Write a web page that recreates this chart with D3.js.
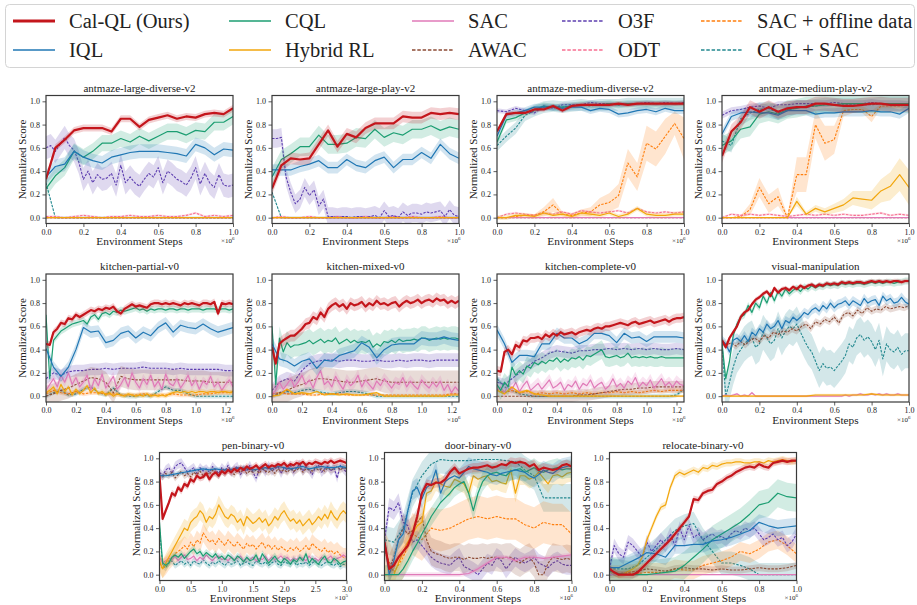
<!DOCTYPE html>
<html><head><meta charset="utf-8">
<script src="https://cdn.jsdelivr.net/npm/d3@7"></script>
<style>
body{margin:0;background:#fff}
svg{display:block}
</style>
</head><body><svg id="c" width="917" height="605" font-family="'Liberation Serif','Times New Roman','DejaVu Serif',serif"></svg>
<script>
const FONT = "'Liberation Serif','Times New Roman','DejaVu Serif',serif";
// ---------------- series ----------------
const seriesNames = ["Cal-QL (Ours)","IQL","CQL","Hybrid RL","SAC","AWAC","O3F","ODT","SAC + offline data","CQL + SAC"];
const seriesColors = ["#c4161c","#2077b4","#1c9e72","#f2a60c","#e07ab8","#8c4b35","#5e3fb0","#f76f91","#ff7f0e","#22888f"];
const seriesDashed = [false,false,false,false,false,true,true,true,true,true];
const seriesWidth = [2.2,1.2,1.2,1.2,1.2,1.1,1.1,1.1,1.1,1.1];
const drawOrder = [9,8,7,6,5,4,3,2,1,0];

// ---------------- panels ----------------
const panelTitles = ["antmaze-large-diverse-v2","antmaze-large-play-v2","antmaze-medium-diverse-v2","antmaze-medium-play-v2",
  "kitchen-partial-v0","kitchen-mixed-v0","kitchen-complete-v0","visual-manipulation",
  "pen-binary-v0","door-binary-v0","relocate-binary-v0"];
const panelXMax = [1,1,1,1,1.25,1.25,1.25,1,3,1,1];
const panelExp = ["6","6","6","6","6","6","6","6","5","6","6"];
const xTicksUnit = [0,0.2,0.4,0.6,0.8,1.0];
const xTicksKitchen = [0,0.2,0.4,0.6,0.8,1.0,1.2];
const xTicksPen = [0,0.5,1.0,1.5,2.0,2.5,3.0];
const yTicks = [0,0.2,0.4,0.6,0.8,1.0];

// order: Cal-QL, IQL, CQL, Hybrid RL, SAC, AWAC, O3F, ODT, SAC+offline, CQL+SAC
const antmazeLargeDiverse = [
 [0.33,0.60,0.67,0.75,0.77,0.77,0.77,0.74,0.85,0.85,0.78,0.84,0.86,0.88,0.85,0.87,0.86,0.89,0.90,0.89,0.94],
 [0.35,0.44,0.46,0.57,0.52,0.49,0.47,0.52,0.54,0.56,0.57,0.57,0.57,0.56,0.55,0.53,0.63,0.60,0.54,0.59,0.58],
 [0.25,0.36,0.43,0.57,0.52,0.57,0.64,0.64,0.68,0.65,0.70,0.66,0.70,0.74,0.74,0.71,0.75,0.74,0.82,0.82,0.87],
 [0,0],[0,0],[0,0],
 [0.60,0.62,0.57,0.63,0.69,0.62,0.58,0.48,0.33,0.40,0.30,0.37,0.33,0.34,0.38,0.28,0.45,0.30,0.35,0.30,0.27,0.33,0.38,0.35,0.43,0.30,0.40,0.37,0.33,0.31,0.28,0.34,0.43,0.29,0.38,0.30,0.26,0.37,0.28,0.27,0.28],
 [0.01,0.01,0.0,0.01,0.02,0.01,0.0,0.01,0.01,0.02,0.01,0.01,0.02,0.01,0.01,0.02,0.04,0.01,0.02,0.01,0.02],
 [0,0],
 [0.30,0,0,0,0,0,0,0,0,0,0,0,0,0,0,0,0,0,0,0,0]
];
const antmazeLargeDiverseSd = [0.03,0.06,0.07,0,0,0,0.10,0.01,0,0.01];

const antmazeLargePlay = [
 [0.25,0.45,0.51,0.50,0.51,0.63,0.75,0.61,0.72,0.69,0.77,0.81,0.81,0.81,0.87,0.86,0.86,0.90,0.89,0.90,0.89],
 [0.41,0.41,0.41,0.44,0.46,0.49,0.43,0.43,0.50,0.45,0.43,0.49,0.52,0.43,0.50,0.50,0.56,0.51,0.63,0.55,0.51],
 [0.35,0.50,0.55,0.61,0.61,0.71,0.63,0.63,0.64,0.69,0.68,0.76,0.69,0.73,0.71,0.76,0.76,0.79,0.75,0.78,0.76],
 [0,0],[0,0],[0,0],
 [0.68,0.68,0.69,0.35,0.22,0.12,0.16,0.26,0.19,0.24,0.10,0.16,0.01,0.01,0.0,0.01,0.01,0.0,0.01,0.01,0.0,0.01,0.02,0.0,0.06,0.01,0.02,0.0,0.05,0.02,0.04,0.04,0.03,0.05,0.04,0.05,0.06,0.01,0.07,0.02,0.01],
 [0.0,0.01,0.0,0.0,0.01,0.0,0.0,0.01,0.0,0.0,0.01,0.0,0.0,0.01,0.0,0.01,0.0,0.0,0.01,0.0,0.0],
 [0,0],
 [0.22,0,0,0,0,0,0,0,0,0,0,0,0,0,0,0,0,0,0,0,0]
];
const antmazeLargePlaySd = [0.05,0.05,0.08,0,0,0,0.08,0.01,0,0.01];

const antmazeMediumDiverse = [
 [0.74,0.89,0.90,0.90,0.93,0.93,0.96,0.92,0.96,0.97,0.97,0.97,0.97,0.98,0.97,0.98,0.98,0.98,0.98,0.98,0.98],
 [0.70,0.88,0.90,0.92,0.95,0.95,0.95,0.94,0.95,0.95,0.92,0.94,0.93,0.89,0.90,0.92,0.93,0.91,0.94,0.92,0.92],
 [0.65,0.84,0.86,0.90,0.93,0.96,0.95,0.95,0.96,0.97,0.97,0.97,0.98,0.97,0.98,0.98,0.98,0.98,0.98,0.98,0.98],
 [0,0,0.02,0.02,0.01,0.04,0.02,0.03,0.01,0.04,0.03,0.02,0.04,0.01,0.03,0.08,0.03,0.02,0.02,0.03,0.03],
 [0,0],[0,0],
 [0.92,0.91,0.94,0.92,0.90,0.96,0.94,0.97,0.97,0.97,0.99,0.98,0.98,0.97,0.98,0.98,0.99,0.98,0.99,0.98,0.99],
 [0.0,0.03,0.04,0.03,0.02,0.04,0.03,0.05,0.03,0.06,0.05,0.04,0.05,0.06,0.04,0.08,0.05,0.04,0.05,0.04,0.05],
 [0,0,0.01,0.02,0.02,0.05,0.11,0.03,0.02,0.04,0.05,0.11,0.13,0.19,0.47,0.35,0.64,0.59,0.70,0.81,0.68],
 [0.62,0.70,0.77,0.88,0.92,0.95,0.96,0.95,0.96,0.97,0.96,0.97,0.97,0.97,0.98,0.98,0.98,0.98,0.98,0.98,0.98]
];
const antmazeMediumDiverseSd = [0.02,0.03,0.03,0.02,0,0,0.02,0.01,
 [0,0,0.01,0.01,0.01,0.04,0.06,0.02,0.02,0.03,0.04,0.06,0.08,0.10,0.12,0.12,0.15,0.15,0.15,0.10,0.18],0.05];

const antmazeMediumPlay = [
 [0.53,0.74,0.82,0.95,0.91,0.95,0.91,0.94,0.95,0.95,0.98,0.98,0.97,0.96,0.96,0.97,0.98,0.98,0.97,0.97,0.97],
 [0.72,0.87,0.90,0.91,0.90,0.90,0.88,0.92,0.92,0.92,0.89,0.90,0.90,0.91,0.91,0.91,0.92,0.91,0.91,0.89,0.94],
 [0.62,0.66,0.76,0.78,0.89,0.91,0.89,0.93,0.94,0.96,0.96,0.97,0.97,0.98,0.98,0.98,0.98,0.98,0.98,0.98,0.98],
 [0,0,0,0,0,0,0,0,0.14,0.03,0.08,0.05,0.08,0.11,0.17,0.16,0.15,0.23,0.27,0.37,0.26],
 [0,0],[0,0],
 [0.88,0.92,0.93,0.95,0.96,0.94,0.97,0.97,0.98,0.98,0.98,0.98,0.99,0.98,0.98,0.98,0.99,0.98,0.98,0.98,0.97],
 [0.0,0.03,0.02,0.03,0.02,0.03,0.02,0.01,0.02,0.03,0.02,0.03,0.02,0.03,0.02,0.02,0.03,0.04,0.02,0.03,0.02],
 [0,0,0.01,0.07,0.26,0.12,0.18,0.0,0.37,0.37,0.80,0.64,0.67,0.92,0.93,0.93,0.87,0.96,0.96,0.96,0.97],
 [0.66,0.62,0.85,0.90,0.93,0.94,0.90,0.92,0.95,0.95,0.96,0.97,0.97,0.97,0.97,0.97,0.97,0.98,0.98,0.98,0.98]
];
const antmazeMediumPlaySd = [0.06,0.04,0.08,
 [0,0,0,0,0,0,0,0,0.04,0.02,0.03,0.03,0.04,0.05,0.06,0.07,0.08,0.10,0.12,0.14,0.15],0,0,0.03,0.01,
 [0,0,0.01,0.05,0.08,0.08,0.08,0.02,0.15,0.15,0.12,0.15,0.12,0.05,0.03,0.03,0.05,0.02,0.02,0.02,0.02],0.06];

const kitchenPartial = [
 [0.45,0.44,0.55,0.58,0.63,0.62,0.67,0.66,0.70,0.68,0.70,0.72,0.74,0.73,0.75,0.74,0.76,0.75,0.77,0.73,0.71,0.75,0.77,0.79,0.77,0.78,0.77,0.76,0.79,0.80,0.80,0.79,0.80,0.79,0.80,0.79,0.78,0.80,0.79,0.80,0.79,0.78,0.80,0.80,0.79,0.81,0.71,0.80,0.79,0.80,0.79],
 [0.41,0.25,0.17,0.25,0.40,0.59,0.55,0.56,0.46,0.48,0.54,0.56,0.50,0.55,0.52,0.59,0.63,0.55,0.61,0.59,0.58,0.62,0.58,0.55,0.57,0.59],
 [0.70,0.15,0.48,0.52,0.56,0.58,0.60,0.62,0.63,0.64,0.65,0.62,0.68,0.70,0.66,0.71,0.72,0.70,0.73,0.72,0.74,0.73,0.74,0.75,0.76,0.74,0.75,0.73,0.75,0.74,0.75,0.75,0.74,0.75,0.75,0.74,0.75,0.75,0.74,0.75,0.75,0.75,0.74,0.75,0.75,0.75,0.74,0.75,0.75,0.74,0.75],
 [0.03,0.05,0.08,0.02,0.10,0.04,0.08,0.01,0.06,0.02,0.05,0.09,0.03,0.07,0.02,0.04,0.01,0.03,0.00,0.02,0.01,0.00,0.02,0.01,0.00,0.01,0.00,0.02,0.00,0.01,0.00,0.01,0.00,0.02,0.03,0.04,0.03,0.04,0.03,0.04,0.03,0.04,0.04,0.03,0.04,0.04,0.03,0.04,0.04,0.03,0.04],
 [0.05,0.10,0.15,0.08,0.18,0.12,0.20,0.10,0.16,0.08,0.12,0.18,0.05,0.15,0.09,0.19,0.07,0.12,0.17,0.06,0.10,0.16,0.08,0.20,0.12,0.07,0.15,0.10,0.18,0.08,0.13,0.06,0.19,0.11,0.09,0.15,0.07,0.12,0.18,0.09,0.14,0.06,0.13,0.10,0.17,0.08,0.12,0.05,0.10,0.14,0.08],
 [0.0,0.02,0.05,0.07,0.10,0.13,0.16,0.15,0.12,0.03,0.17,0.15,0.14,0.14,0.14,0.14,0.14,0.14,0.14,0.13,0.13,0.13,0.12,0.12,0.12,0.12],
 [0.15,0.20,0.18,0.21,0.22,0.22,0.23,0.23,0.24,0.23,0.24,0.24,0.24,0.25,0.24,0.24,0.24,0.23,0.24,0.23,0.23,0.23,0.23,0.23,0.22,0.22],
 [],
 [0.02,0.05,0.03,0.02,0.04,0.02,0.03,0.03,0.02,0.02,0.01,0.01,0.01,0.02,0.01,0.01,0.01,0.02,0.01,0.01,0.01,0.02,0.02,0.03,0.03,0.03],
 [0.0,0.03,0.05,0.01,0.02,0.06,0.08,0.03,0.01,0.07,0.01,0.0,0.0,0.01,0.0,0.04,0.08,0.05,0.05,0.02,0.0,0.0,0.0,0.0,0.0,0.0]
];
const kitchenPartialSd = [0.03,0.05,0.03,0.02,0.04,0.09,0.05,0,0.02,0.02];

const kitchenMixed = [
 [0.42,0.28,0.45,0.48,0.50,0.52,0.52,0.55,0.58,0.62,0.63,0.68,0.66,0.72,0.68,0.75,0.78,0.80,0.77,0.79,0.75,0.80,0.78,0.79,0.81,0.77,0.80,0.78,0.82,0.79,0.80,0.78,0.80,0.81,0.77,0.80,0.82,0.80,0.81,0.83,0.80,0.82,0.83,0.81,0.84,0.82,0.83,0.80,0.82,0.80,0.82],
 [0.45,0.32,0.30,0.26,0.30,0.32,0.24,0.31,0.30,0.35,0.37,0.39,0.46,0.42,0.33,0.40,0.44,0.45,0.45,0.45,0.50,0.49,0.49,0.51,0.49,0.48],
 [0.60,0.10,0.50,0.38,0.46,0.42,0.44,0.44,0.45,0.46,0.48,0.45,0.47,0.49,0.46,0.48,0.47,0.50,0.45,0.47,0.49,0.46,0.48,0.46,0.47,0.46,0.48,0.42,0.45,0.43,0.47,0.46,0.48,0.46,0.49,0.47,0.48,0.48,0.49,0.48,0.50,0.50,0.48,0.49,0.50,0.49,0.50,0.49,0.50,0.50,0.49],
 [0.0,0.01,0.06,0.02,0.03,0.02,0.04,0.01,0.02,0.01,0.02,0.01,0.01,0.02,0.03,0.0,0.0,0.0,0.0,0.0,0.0,0.0,0.0,0.0,0.01,0.01],
 [0.02,0.05,0.12,0.06,0.10,0.15,0.08,0.12,0.18,0.10,0.14,0.07,0.16,0.22,0.10,0.13,0.08,0.17,0.11,0.06,0.14,0.09,0.12,0.18,0.08,0.14,0.10,0.06,0.13,0.09,0.15,0.11,0.07,0.12,0.10,0.16,0.08,0.13,0.09,0.06,0.14,0.10,0.07,0.12,0.08,0.13,0.05,0.10,0.03,0.08,0.04],
 [0.0,0.03,0.05,0.08,0.10,0.13,0.15,0.15,0.14,0.13,0.12,0.12,0.13,0.14,0.15,0.13,0.12,0.12,0.12,0.12,0.12,0.12,0.12,0.12,0.12,0.12],
 [0.05,0.12,0.15,0.13,0.22,0.28,0.30,0.31,0.31,0.30,0.31,0.31,0.30,0.30,0.31,0.30,0.30,0.31,0.30,0.31,0.31,0.30,0.31,0.31,0.31,0.31],
 [],
 [0.02,0.03,0.02,0.02,0.02,0.01,0.01,0.02,0.02,0.02,0.01,0.01,0.01,0.01,0.01,0.01,0.01,0.01,0.01,0.01,0.01,0.01,0.01,0.01,0.02,0.02],
 [0.0,0.02,0.04,0.03,0.05,0.06,0.04,0.03,0.02,0.03,0.04,0.04,0.03,0.02,0.0,0.0,0.0,0.0,0.0,0.0,0.0,0.0,0.0,0.0,0.0,0.0]
];
const kitchenMixedSd = [0.05,0.06,0.10,0.01,0.05,0.10,0.06,0,0.01,0.02];

const kitchenComplete = [
 [0.22,0.21,0.38,0.40,0.36,0.44,0.42,0.48,0.47,0.50,0.50,0.51,0.49,0.53,0.51,0.54,0.52,0.55,0.53,0.54,0.55,0.53,0.55,0.56,0.57,0.56,0.58,0.59,0.58,0.60,0.60,0.61,0.62,0.63,0.62,0.61,0.63,0.64,0.62,0.63,0.64,0.65,0.63,0.64,0.65,0.66,0.64,0.66,0.67,0.67,0.68],
 [0.57,0.45,0.29,0.35,0.35,0.34,0.45,0.45,0.54,0.50,0.50,0.45,0.48,0.54,0.54,0.52,0.46,0.54,0.50,0.51,0.47,0.51,0.51,0.51,0.51,0.50],
 [0.10,0.05,0.12,0.08,0.25,0.18,0.22,0.19,0.26,0.24,0.29,0.27,0.30,0.28,0.31,0.30,0.33,0.29,0.32,0.30,0.33,0.32,0.34,0.31,0.35,0.34,0.36,0.38,0.40,0.34,0.33,0.34,0.35,0.33,0.34,0.37,0.33,0.34,0.33,0.34,0.33,0.34,0.33,0.33,0.34,0.33,0.33,0.33,0.33,0.33,0.33],
 [0.05,0.02,0.08,0.03,0.05,0.02,0.01,0,0,0,0,0,0,0,0,0,0,0,0,0,0,0,0,0,0,0],
 [0.05,0.08,0.03,0.10,0.06,0.12,0.04,0.09,0.13,0.05,0.08,0.11,0.06,0.10,0.14,0.07,0.09,0.12,0.05,0.10,0.08,0.13,0.06,0.11,0.09,0.14,0.07,0.10,0.12,0.06,0.09,0.15,0.08,0.11,0.07,0.13,0.10,0.16,0.08,0.12,0.09,0.14,0.07,0.11,0.15,0.09,0.12,0.08,0.13,0.10,0.09],
 [0,0,0,0,0,0,0,0,0,0,0,0.01,0.01,0.02,0.03,0.04,0.05,0.06,0.06,0.07,0.07,0.08,0.08,0.08,0.08,0.08],
 [0.12,0.10,0.15,0.20,0.25,0.30,0.33,0.37,0.39,0.38,0.37,0.39,0.39,0.40,0.40,0.41,0.40,0.41,0.40,0.41,0.40,0.41,0.40,0.40,0.41,0.40],
 [],
 [0.06,0.03,0.05,0.03,0.04,0.02,0.03,0.02,0.03,0.02,0.03,0.02,0.03,0.02,0.03,0.03,0.04,0.03,0.04,0.03,0.04,0.05,0.04,0.05,0.05,0.05],
 [0.15,0.08,0.05,0.02,0.01,0,0,0,0,0,0,0,0,0,0,0,0,0,0,0,0,0,0,0,0.01,0.06]
];
const kitchenCompleteSd = [0.04,0.05,0.08,0.01,0.05,0.05,0.05,0,0.02,0.02];

const visualManipulation = [
 [0.48,0.42,0.50,0.55,0.60,0.68,0.72,0.74,0.79,0.83,0.85,0.88,0.90,0.86,0.93,0.89,0.92,0.93,0.91,0.94,0.92,0.95,0.93,0.95,0.96,0.94,0.96,0.95,0.97,0.96,0.97,0.96,0.98,0.97,0.98,0.97,0.98,0.98,0.97,0.98,0.99,0.98,0.99,0.98,0.99,0.98,0.99,0.99,0.98,0.99,0.99],
 [0.48,0.45,0.38,0.48,0.50,0.47,0.52,0.47,0.55,0.52,0.58,0.55,0.62,0.58,0.60,0.65,0.58,0.65,0.63,0.68,0.65,0.68,0.72,0.70,0.74,0.76,0.73,0.78,0.75,0.80,0.76,0.79,0.80,0.82,0.78,0.82,0.80,0.78,0.84,0.80,0.82,0.83,0.78,0.86,0.82,0.84,0.80,0.81,0.85,0.81,0.79],
 [0.45,0.15,0.30,0.52,0.62,0.68,0.70,0.78,0.72,0.80,0.76,0.86,0.80,0.89,0.82,0.90,0.86,0.92,0.88,0.91,0.93,0.90,0.94,0.92,0.95,0.93,0.95,0.94,0.96,0.95,0.96,0.95,0.97,0.96,0.97,0.96,0.97,0.97,0.96,0.97,0.98,0.97,0.98,0.97,0.98,0.98,0.97,0.98,0.98,0.99,0.99],
 [0,0,0,0,0,0,0,0,0,0,0.01,0.01,0.01,0.01,0.01,0.01,0.02,0.01,0.01,0.01,0.01],
 [0,0.01,0,0.01,0.02,0,0.01,0,0.03,0,0,0,0,0,0,0,0,0,0,0,0,0,0,0,0,0,0,0,0,0,0,0,0,0.01,0,0.01,0.01,0.02,0.01,0.01,0.02,0.01,0.02,0.01,0.02,0.01,0.01,0.02,0.01,0.01,0.01],
 [0.47,0.44,0.46,0.43,0.47,0.44,0.48,0.50,0.47,0.52,0.50,0.55,0.53,0.56,0.55,0.58,0.56,0.60,0.62,0.58,0.64,0.62,0.66,0.64,0.68,0.63,0.70,0.72,0.69,0.74,0.71,0.76,0.73,0.75,0.74,0.77,0.75,0.76,0.77,0.76,0.78],
 [],[],[],
 [0.45,0.0,0.12,0.25,0.35,0.40,0.45,0.48,0.50,0.42,0.45,0.55,0.50,0.45,0.48,0.58,0.50,0.56,0.60,0.58,0.62,0.55,0.48,0.42,0.38,0.30,0.22,0.28,0.24,0.25,0.22,0.26,0.30,0.35,0.45,0.42,0.50,0.53,0.48,0.51,0.47,0.40,0.48,0.32,0.45,0.40,0.38,0.42,0.36,0.39,0.39]
];
const visualManipulationSd = [0.02,0.04,0.03,0.01,0.01,0.03,0,0,0,0.15];

const penBinary = [
 [0.85,0.48,0.55,0.62,0.70,0.68,0.75,0.72,0.78,0.76,0.82,0.80,0.85,0.83,0.84,0.87,0.82,0.86,0.88,0.85,0.89,0.87,0.90,0.88,0.91,0.89,0.92,0.90,0.93,0.91,0.92,0.94,0.91,0.93,0.95,0.92,0.94,0.93,0.95,0.94,0.96,0.93,0.95,0.94,0.96,0.95,0.97,0.94,0.96,0.95,0.97,0.96,0.95,0.97,0.96,0.98,0.96,0.97,0.98,0.97,0.96],
 [0.85,0.85,0.86,0.87,0.88,0.89,0.90,0.91,0.90,0.91,0.90,0.90,0.91,0.92,0.91,0.90,0.91,0.92,0.91,0.93,0.92,0.91,0.92,0.93,0.91,0.92,0.93,0.92,0.92,0.93,0.92],
 [0.45,0.10,0.08,0.10,0.15,0.17,0.15,0.18,0.14,0.17,0.20,0.22,0.18,0.20,0.16,0.19,0.17,0.15,0.18,0.14,0.16,0.13,0.17,0.15,0.12,0.16,0.14,0.11,0.15,0.12,0.13,0.17,0.11,0.18,0.14,0.10,0.13,0.16,0.12,0.10,0.14,0.12,0.09,0.13,0.11,0.15,0.12,0.18,0.10,0.14,0.11,0.09,0.13,0.16,0.11,0.10,0.14,0.12,0.09,0.11,0.12],
 [0.12,0.05,0.10,0.15,0.20,0.25,0.30,0.35,0.40,0.38,0.45,0.48,0.50,0.55,0.52,0.45,0.50,0.48,0.52,0.60,0.55,0.50,0.48,0.52,0.50,0.45,0.48,0.42,0.50,0.47,0.44,0.46,0.49,0.45,0.48,0.42,0.45,0.50,0.47,0.52,0.55,0.50,0.46,0.48,0.44,0.47,0.42,0.45,0.48,0.43,0.46,0.50,0.47,0.52,0.48,0.55,0.50,0.47,0.52,0.55,0.52],
 [0.15,0.10,0.12,0.14,0.13,0.16,0.12,0.15,0.17,0.13,0.14,0.16,0.12,0.15,0.13,0.17,0.14,0.12,0.15,0.16,0.13,0.14,0.12,0.15,0.13,0.14,0.16,0.12,0.14,0.13,0.15,0.12,0.14,0.13,0.16,0.12,0.15,0.13,0.14,0.16,0.13,0.15,0.12,0.14,0.13,0.15,0.14,0.12,0.16,0.13,0.14,0.12,0.15,0.13,0.14,0.16,0.12,0.14,0.15,0.17,0.15],
 [0.86,0.84,0.87,0.85,0.88,0.83,0.86,0.89,0.85,0.87,0.84,0.88,0.86,0.89,0.85,0.88,0.86,0.90,0.87,0.85,0.89,0.87,0.90,0.88,0.86,0.90,0.88,0.91,0.87,0.89,0.88,0.90,0.87,0.91,0.89,0.88,0.90,0.87,0.91,0.89,0.90,0.88,0.91,0.89,0.90,0.92,0.88,0.91,0.90,0.89,0.92,0.90,0.91,0.89,0.92,0.90,0.91,0.93,0.90,0.92,0.91],
 [0.88,0.85,0.90,0.92,0.87,0.93,0.95,0.96,0.92,0.88,0.90,0.92,0.87,0.92,0.89,0.91,0.88,0.93,0.90,0.87,0.92,0.89,0.94,0.88,0.91,0.93,0.86,0.91,0.89,0.94,0.88,0.83,0.90,0.92,0.88,0.94,0.89,0.91,0.93,0.87,0.92,0.90,0.94,0.88,0.92,0.95,0.89,0.93,0.90,0.86,0.92,0.94,0.88,0.91,0.93,0.89,0.92,0.83,0.94,0.91,0.88],
 [],
 [0.10,0.05,0.08,0.12,0.15,0.18,0.20,0.22,0.25,0.22,0.28,0.24,0.30,0.27,0.36,0.32,0.28,0.30,0.26,0.31,0.28,0.25,0.30,0.27,0.24,0.28,0.25,0.22,0.27,0.24,0.26,0.22,0.25,0.28,0.23,0.26,0.22,0.25,0.21,0.24,0.22,0.20,0.23,0.21,0.24,0.20,0.22,0.25,0.21,0.27,0.24,0.22,0.20,0.23,0.19,0.21,0.18,0.20,0.17,0.15,0.15],
 [0.40,0.08,0.06,0.10,0.12,0.08,0.10,0.12,0.09,0.11,0.08,0.12,0.10,0.09,0.13,0.10,0.08,0.11,0.09,0.12,0.10,0.08,0.11,0.09,0.10,0.12,0.08,0.10,0.11,0.09,0.08,0.12,0.10,0.09,0.11,0.08,0.10,0.12,0.09,0.08,0.11,0.10,0.09,0.12,0.08,0.10,0.09,0.11,0.08,0.10,0.12,0.09,0.08,0.10,0.11,0.09,0.08,0.10,0.07,0.09,0.08]
];
const penBinarySd = [0.03,0.02,0.03,0.08,0.03,0.03,0.04,0,0.08,0.03];

const doorBinary = [
 [0.28,0.05,0.08,0.15,0.20,0.25,0.35,0.50,0.70,0.78,0.77,0.79,0.79,0.82,0.88,0.92,0.87,0.89,0.91,0.92,0.92,0.93,0.94,0.92,0.93,0.95,0.94,0.97,0.96,0.97,0.96,0.93,0.95,0.90,0.92,0.91,0.90,0.91,0.94,0.95,0.93],
 [0.30,0.0,0.12,0.30,0.35,0.55,0.72,0.75,0.65,0.75,0.78,0.90,0.70,0.80,0.83,0.85,0.83,0.88,0.93,0.91,0.90,0.89,0.88,0.86,0.85,0.87,0.88,0.89,0.90,0.89,0.88,0.85,0.83,0.86,0.90,0.88,0.87,0.90,0.92,0.93,0.94],
 [0.0,0.0,0.0,0.0,0.05,0.12,0.20,0.27,0.35,0.42,0.50,0.56,0.62,0.66,0.70,0.75,0.78,0.80,0.70,0.55,0.70,0.80,0.85,0.87,0.88,0.86,0.85,0.89,0.90,0.91,0.88,0.90,0.92,0.89,0.88,0.90,0.91,0.92,0.90,0.91,0.91],
 [0.0,0.0,0.0,0.10,0.20,0.28,0.35,0.42,0.45,0.70,0.72,0.80,0.78,0.76,0.75,0.82,0.80,0.78,0.70,0.85,0.82,0.84,0.85,0.80,0.81,0.79,0.78,0.90,0.70,0.85,0.85,0.82,0.84,0.88,0.83,0.78,0.85,0.86,0.84,0.87,0.88],
 [0,0,0,0,0,0,0,0,0,0.01,0.05,0.10,0.15,0.15,0.12,0.15,0.15,0.14,0.15,0.16,0.17],
 [0.30,0.05,0.15,0.30,0.40,0.35,0.38,0.45,0.50,0.30,0.20,0.18,0.17,0.15,0.14,0.15,0.15,0.13,0.15,0.14,0.14,0.15,0.14,0.15,0.15,0.14,0.15,0.15,0.12,0.10,0.13,0.15,0.10,0.0,0.0,0.10,0.15,0.14,0.13,0.14,0.13],
 [0.30,0.58,0.55,0.62,0.45,0.42,0.28,0.30,0.25,0.20,0.15,0.12,0.10,0.09,0.08,0.12,0.15,0.07,0.05,0.03,0.0,0.05,0.10,0.08,0.15,0.12,0.05,0.10,0.15,0.12,0.10,0.12,0.15,0.10,0.08,0.06,0.10,0.12,0.09,0.08,0.08],
 [],
 [0.20,0.02,0.15,0.35,0.30,0.40,0.38,0.40,0.44,0.48,0.50,0.48,0.50,0.48,0.48,0.43,0.40,0.45,0.43,0.43,0.35],
 [0.30,0.28,0.40,0.70,0.85,0.95,0.99,0.98,0.98,0.98,0.99,0.99,0.99,0.98,0.97,0.90,0.85,0.66,0.66,0.66,0.66]
];
const doorBinarySd = [0.04,0.08,0.08,0.08,0.02,0.12,0.08,0,0.18,0.12];

const relocateBinary = [
 [0.05,0.02,0.0,0.0,0.0,0.0,0.02,0.06,0.10,0.14,0.18,0.22,0.26,0.30,0.35,0.40,0.45,0.50,0.65,0.64,0.70,0.72,0.73,0.78,0.80,0.83,0.85,0.88,0.90,0.92,0.93,0.92,0.95,0.93,0.92,0.96,0.97,0.98,0.97,0.98,0.98],
 [0.06,0.06,0.10,0.14,0.19,0.18,0.15,0.25,0.25,0.26,0.26,0.29,0.30,0.32,0.35,0.38,0.45,0.42,0.40,0.41,0.42],
 [0.03,0.01,0.0,0.0,0.0,0.01,0.02,0.03,0.08,0.15,0.22,0.30,0.35,0.40,0.45,0.52,0.60,0.62,0.70,0.67,0.66],
 [0.05,0.02,0.0,0.01,0.03,0.05,0.08,0.15,0.30,0.40,0.50,0.58,0.60,0.75,0.85,0.88,0.86,0.88,0.90,0.88,0.92,0.91,0.94,0.93,0.95,0.96,0.96,0.97,0.97,0.96,0.96,0.97,0.97,0.96,0.98,0.97,0.98,0.99,0.98,0.97,0.98],
 [0,0],
 [0.0,0.01,0.02,0.03,0.05,0.04,0.03,0.05,0.06,0.05,0.05,0.04,0.05,0.04,0.04,0.05,0.06,0.05,0.05,0.06,0.08],
 [0.05,0.25,0.18,0.15,0.28,0.25,0.20,0.15,0.28,0.20,0.25,0.30,0.25,0.35,0.25,0.40,0.30,0.42,0.32,0.35,0.30,0.33,0.35,0.32,0.33,0.30,0.35,0.38,0.36,0.40,0.38,0.40,0.35,0.30,0.32,0.35,0.30,0.32,0.25,0.28,0.35],
 [],
 [0.0,0.0,0.01,0.01,0.02,0.02,0.02,0.05,0.04,0.04,0.08,0.10,0.12,0.15,0.20,0.18,0.22,0.28,0.30,0.25,0.18],
 [0.05,0.05,0.05,0.08,0.15,0.22,0.30,0.38,0.42,0.44,0.30,0.20,0.10,0.10,0.08,0.05,0.0,0.0,0.0,0.0,0.0]
];
const relocateBinarySd = [0.03,0.07,0.12,0.03,0.005,0.03,0.06,0,0.08,0.10];

const panelData = [antmazeLargeDiverse,antmazeLargePlay,antmazeMediumDiverse,antmazeMediumPlay,
  kitchenPartial,kitchenMixed,kitchenComplete,visualManipulation,penBinary,doorBinary,relocateBinary];
const panelSd = [antmazeLargeDiverseSd,antmazeLargePlaySd,antmazeMediumDiverseSd,antmazeMediumPlaySd,
  kitchenPartialSd,kitchenMixedSd,kitchenCompleteSd,visualManipulationSd,penBinarySd,doorBinarySd,relocateBinarySd];
const panelXTicks = [xTicksUnit,xTicksUnit,xTicksUnit,xTicksUnit,xTicksKitchen,xTicksKitchen,xTicksKitchen,xTicksUnit,xTicksPen,xTicksUnit,xTicksUnit];

// ---------------- layout ----------------
const panelLeft = [46,272,497,722, 46,272,497,722, 159.5,384.5,609.5];
const panelTop  = [95.5,95.5,95.5,95.5, 274,274,274,274, 452.5,452.5,452.5];
const PW = 187, PH = 128;

const svg = d3.select("#c");

// ---------------- legend ----------------
svg.append("rect").attr("x",5.5).attr("y",4.5).attr("width",909).attr("height",63).attr("rx",4)
  .attr("fill","#fff").attr("stroke","#d4d4d4").attr("stroke-width",1);
const legendColX = [13,229,412,562,701];
const legendRowY = [21,50];
seriesNames.forEach((name,i)=>{
  const col = Math.floor(i/2), row = i%2;
  const lx = legendColX[col], ly = legendRowY[row];
  svg.append("line").attr("x1",lx).attr("x2",lx+42).attr("y1",ly).attr("y2",ly)
    .attr("stroke",seriesColors[i]).attr("stroke-width", i===0?3:1.5)
    .attr("stroke-dasharray", seriesDashed[i]?"3.5,1.8":null);
  svg.append("text").attr("x",lx+56).attr("y",ly+7).attr("font-size",20.5)
    .attr("font-family",FONT).attr("fill","#222").text(name);
});

// ---------------- panels ----------------
panelTitles.forEach((title,p)=>{
  const L = panelLeft[p], T = panelTop[p], xmax = panelXMax[p];
  const x = d3.scaleLinear().domain([0,xmax]).range([L,L+PW]);
  const y = d3.scaleLinear().domain([-0.05,1.05]).range([T+PH,T]);
  const g = svg.append("g");
  const cid = "clip"+p;
  svg.append("clipPath").attr("id",cid).append("rect").attr("x",L).attr("y",T).attr("width",PW).attr("height",PH);
  const plot = g.append("g").attr("clip-path","url(#"+cid+")");
  const data = panelData[p], sds = panelSd[p];
  drawOrder.forEach(s=>{
    const vals = data[s];
    if(!vals || vals.length===0) return;
    const n = vals.length;
    const pts = vals.map((v,i)=>({x: i/(n-1)*xmax, v, sd: Array.isArray(sds[s]) ? sds[s][i] : sds[s]}));
    const hasBand = pts.some(d=>d.sd>0);
    if(hasBand){
      plot.append("path").datum(pts)
        .attr("d", d3.area().x(d=>x(d.x)).y0(d=>y(d.v-d.sd)).y1(d=>y(d.v+d.sd)))
        .attr("fill",seriesColors[s]).attr("fill-opacity",0.2).attr("stroke","none");
    }
    plot.append("path").datum(pts)
      .attr("d", d3.line().x(d=>x(d.x)).y(d=>y(d.v)))
      .attr("fill","none").attr("stroke",seriesColors[s]).attr("stroke-width",seriesWidth[s])
      .attr("stroke-linejoin","round")
      .attr("stroke-dasharray", seriesDashed[s]?"2.5,1.3":null);
  });
  // frame
  g.append("rect").attr("x",L).attr("y",T).attr("width",PW).attr("height",PH)
    .attr("fill","none").attr("stroke","#3a3a3a").attr("stroke-width",1.2);
  // axes
  const ax = g.append("g").attr("transform","translate(0,"+(T+PH)+")")
    .call(d3.axisBottom(x).tickValues(panelXTicks[p]).tickSize(3.5).tickPadding(2).tickFormat(d3.format(".1f")));
  const ay = g.append("g").attr("transform","translate("+L+",0)")
    .call(d3.axisLeft(y).tickValues(yTicks).tickSize(3.5).tickPadding(2.5).tickFormat(d3.format(".1f")));
  [ax,ay].forEach(a=>{
    a.attr("font-family",FONT);
    a.select(".domain").remove();
    a.selectAll("line").attr("stroke","#333").attr("stroke-width",0.8);
    a.selectAll("text").attr("font-size",8).attr("font-family",FONT).attr("fill","#222");
  });
  // labels
  const lab = (sel)=>sel.attr("font-family",FONT).attr("fill","#222");
  lab(g.append("text").attr("x",L+PW/2).attr("y",T-4).attr("text-anchor","middle").attr("font-size",11).text(title));
  lab(g.append("text").attr("transform","translate("+(L-20)+","+(T+PH/2)+") rotate(-90)")
    .attr("text-anchor","middle").attr("font-size",11).text("Normalized Score"));
  lab(g.append("text").attr("x",L+PW/2).attr("y",T+PH+21.5).attr("text-anchor","middle").attr("font-size",11.3).text("Environment Steps"));
  const ex = lab(g.append("text").attr("x",L+PW+1.5).attr("y",T+PH+19.5).attr("text-anchor","end").attr("font-size",7));
  ex.append("tspan").text("×10");
  ex.append("tspan").attr("font-size",5).attr("dy",-3).text(panelExp[p]);
});
</script>
</body></html>
